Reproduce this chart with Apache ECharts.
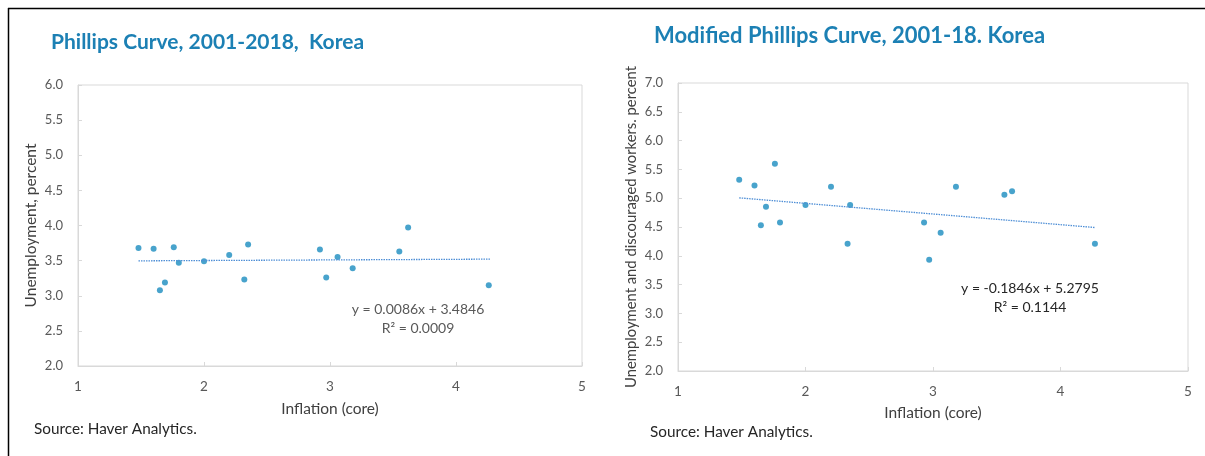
<!DOCTYPE html>
<html><head><meta charset="utf-8">
<script src="https://cdn.jsdelivr.net/npm/echarts@6/dist/echarts.min.js"></script>
<style>html,body{margin:0;padding:0;background:#fff}#c{width:1205px;height:456px}</style>
</head><body><div id="c"></div>
<script>
// Inflation (core) — left panel x values
const inflation = [1.48, 1.60, 1.65, 1.69, 1.76, 1.80, 2.00, 2.20, 2.32, 2.35, 2.92, 2.97, 3.06, 3.18, 3.55, 3.62, 4.26];
// Left panel: unemployment, percent
const unemployment = [3.68, 3.67, 3.08, 3.19, 3.69, 3.47, 3.49, 3.58, 3.23, 3.73, 3.66, 3.26, 3.55, 3.39, 3.63, 3.97, 3.15];
// Right panel: inflation (core) and unemployment + discouraged workers, percent
const inflation2 = [1.48, 1.60, 1.65, 1.69, 1.76, 1.80, 2.00, 2.20, 2.33, 2.35, 2.93, 2.97, 3.06, 3.18, 3.56, 3.62, 4.27];
const unempDiscouraged = [5.32, 5.22, 4.53, 4.85, 5.60, 4.58, 4.88, 5.20, 4.21, 4.88, 4.58, 3.93, 4.40, 5.20, 5.06, 5.12, 4.21];
// Trend line endpoints as drawn
const trendLeft = [[1.48, 3.497], [4.27, 3.521]];
const trendRight = [[1.48, 5.006], [4.27, 4.491]];
const titles = ['Phillips Curve, 2001-2018,  Korea', 'Modified Phillips Curve, 2001-18. Korea'];
const eqLeft = ['y = 0.0086x + 3.4846', 'R² = 0.0009'];
const eqRight = ['y = -0.1846x + 5.2795', 'R² = 0.1144'];

const FONT = 'Lato';
const grey = '#595959';
const border = '#d9d9d9';
const ptColor = '#1a8cbf';

function xAxis(i, gap) {
  return {
    gridIndex: i, type: 'value', min: 1, max: 5, interval: 1,
    name: 'Inflation (core)', nameLocation: 'middle', nameGap: gap,
    nameTextStyle: {color: '#404040', fontFamily: FONT, fontSize: 15.5},
    axisLine: {show: true, lineStyle: {color: border}},
    axisTick: {show: true, inside: true, length: 4, lineStyle: {color: border}},
    axisLabel: {color: grey, fontFamily: FONT, fontSize: 13.5, margin: 14},
    splitLine: {show: false}
  };
}
function yAxis(i, min, max, name, gap, fs) {
  return {
    gridIndex: i, type: 'value', min: min, max: max, interval: 0.5,
    name: name, nameLocation: 'middle', nameGap: gap, nameRotate: 90,
    nameTextStyle: {color: '#404040', fontFamily: FONT, fontSize: fs},
    axisLine: {show: true, lineStyle: {color: border}},
    axisTick: {show: true, inside: true, length: 4, lineStyle: {color: border}},
    axisLabel: {color: grey, fontFamily: FONT, fontSize: 13, margin: 15, formatter: v => v.toFixed(1)},
    splitLine: {show: false}
  };
}

const chart = echarts.init(document.getElementById('c'), null, {renderer: 'canvas'});
chart.setOption({
  animation: false,
  backgroundColor: '#fff',
  title: [
    {text: titles[0], left: 51, top: 32, padding: 0, textStyle: {color: '#1c80b4', fontFamily: FONT, fontWeight: 'bold', fontSize: 21}},
    {text: titles[1], left: 654, top: 25, padding: 0, textStyle: {color: '#1c80b4', fontFamily: FONT, fontWeight: 'bold', fontSize: 22}}
  ],
  grid: [
    {left: 78, top: 85, width: 504, height: 281, show: true, borderColor: border, borderWidth: 1},
    {left: 678, top: 83, width: 510, height: 288, show: true, borderColor: border, borderWidth: 1}
  ],
  xAxis: [xAxis(0, 35), xAxis(1, 34)],
  yAxis: [yAxis(0, 2, 6, 'Unemployment, percent', 39, 15.5), yAxis(1, 2, 7, 'Unemployment and discouraged workers. percent', 39, 14.8)],
  series: [
    {type: 'line', xAxisIndex: 0, yAxisIndex: 0, data: trendLeft, symbol: 'none',
     lineStyle: {color: '#4f8fd6', width: 1.3, type: [1.5, 1]}},
    {type: 'scatter', xAxisIndex: 0, yAxisIndex: 0, data: inflation.map((x, i) => [x, unemployment[i]]),
     symbolSize: 6, itemStyle: {color: ptColor}},
    {type: 'line', xAxisIndex: 1, yAxisIndex: 1, data: trendRight, symbol: 'none',
     lineStyle: {color: '#4f8fd6', width: 1.3, type: [1.5, 1]}},
    {type: 'scatter', xAxisIndex: 1, yAxisIndex: 1, data: inflation2.map((x, i) => [x, unempDiscouraged[i]]),
     symbolSize: 6, itemStyle: {color: ptColor}}
  ],
  graphic: [
    {type: 'line', shape: {x1: 8, y1: 8.5, x2: 1205, y2: 8.5}, style: {stroke: '#000', lineWidth: 1.5}},
    {type: 'line', shape: {x1: 8.5, y1: 8, x2: 8.5, y2: 456}, style: {stroke: '#000', lineWidth: 1.5}},
    {type: 'text', x: 418, y: 309, style: {text: eqLeft[0], fill: grey, font: '14px ' + FONT, textAlign: 'center', textVerticalAlign: 'middle'}},
    {type: 'text', x: 418, y: 328, style: {text: eqLeft[1], fill: grey, font: '14px ' + FONT, textAlign: 'center', textVerticalAlign: 'middle'}},
    {type: 'text', x: 1030, y: 288, style: {text: eqRight[0], fill: '#262626', font: '14px ' + FONT, textAlign: 'center', textVerticalAlign: 'middle'}},
    {type: 'text', x: 1030, y: 307, style: {text: eqRight[1], fill: '#262626', font: '14px ' + FONT, textAlign: 'center', textVerticalAlign: 'middle'}},
    {type: 'text', x: 34, y: 429, style: {text: 'Source: Haver Analytics.', fill: '#262626', font: '15.3px ' + FONT, textAlign: 'left', textVerticalAlign: 'middle'}},
    {type: 'text', x: 650, y: 432, style: {text: 'Source: Haver Analytics.', fill: '#262626', font: '15.3px ' + FONT, textAlign: 'left', textVerticalAlign: 'middle'}}
  ]
});
</script></body></html>
